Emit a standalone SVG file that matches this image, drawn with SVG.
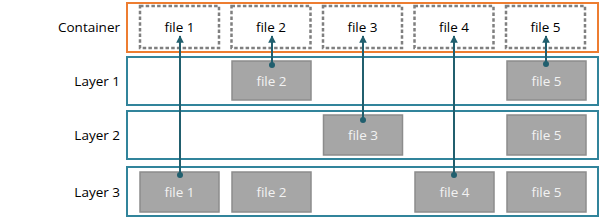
<svg xmlns="http://www.w3.org/2000/svg" width="603" height="219" viewBox="0 0 603 219">
<style>
.lbl{font-family:"Open Sans","Noto Sans",sans-serif;font-size:13.5px;fill:#000;text-anchor:end;dominant-baseline:central}
.ft{font-family:"Open Sans","Noto Sans",sans-serif;font-size:13.5px;text-anchor:middle;dominant-baseline:central}
.cont{fill:#fff;stroke:#ED7D31;stroke-width:2}
.layer{fill:#fff;stroke:#31849B;stroke-width:2}
.dash{fill:#fff;stroke:#7F7F7F;stroke-width:2.5;stroke-dasharray:3.5 2.2}
.gray{fill:#A6A6A6;stroke:#8C8C8C;stroke-width:1.5}
.wt{fill:#F2F2F2}
.bt{fill:#000}
.conn line{stroke:#215F6E;stroke-width:2;marker-end:url(#ah)}
.conn circle{fill:#215F6E}
</style>
<defs>
<marker id="ah" viewBox="0 0 10 10" refX="9" refY="5" markerWidth="3.8" markerHeight="3.8" orient="auto" markerUnits="strokeWidth">
<path d="M0,0 L10,5 L0,10 z" fill="#215F6E"/>
</marker>
</defs>
<g id="container">
<text class="lbl" x="120" y="27">Container</text>
<rect class="cont" x="127" y="3" width="471" height="49"/>
</g>
<g id="layer1"><text class="lbl" x="120" y="81">Layer 1</text><rect class="layer" x="127" y="57" width="471" height="48"/></g>
<g id="layer2"><text class="lbl" x="120" y="135">Layer 2</text><rect class="layer" x="127" y="111" width="471" height="48"/></g>
<g id="layer3"><text class="lbl" x="120" y="192">Layer 3</text><rect class="layer" x="127" y="167" width="471" height="49"/></g>

<g id="c-file1"><rect class="dash" x="140" y="6" width="79" height="42"/><text class="ft bt" x="179.5" y="27">file 1</text></g>
<g id="c-file2"><rect class="dash" x="231.5" y="6" width="79" height="42"/><text class="ft bt" x="271" y="27">file 2</text></g>
<g id="c-file3"><rect class="dash" x="323" y="6" width="79" height="42"/><text class="ft bt" x="362.5" y="27">file 3</text></g>
<g id="c-file4"><rect class="dash" x="414.5" y="6" width="79" height="42"/><text class="ft bt" x="454" y="27">file 4</text></g>
<g id="c-file5"><rect class="dash" x="506" y="6" width="79" height="42"/><text class="ft bt" x="545.5" y="27">file 5</text></g>

<g id="l1-file2"><rect class="gray" x="232" y="61" width="79" height="39"/><text class="ft wt" x="271.5" y="81">file 2</text></g>
<g id="l1-file5"><rect class="gray" x="507" y="61" width="79" height="39"/><text class="ft wt" x="546.5" y="81">file 5</text></g>

<g id="l2-file3"><rect class="gray" x="323.5" y="115" width="79" height="40"/><text class="ft wt" x="363" y="135">file 3</text></g>
<g id="l2-file5"><rect class="gray" x="507" y="115" width="79" height="40"/><text class="ft wt" x="546.5" y="135">file 5</text></g>

<g id="l3-file1"><rect class="gray" x="140" y="172" width="79" height="40"/><text class="ft wt" x="179.5" y="192">file 1</text></g>
<g id="l3-file2"><rect class="gray" x="232" y="172" width="79" height="40"/><text class="ft wt" x="271.5" y="192">file 2</text></g>
<g id="l3-file4"><rect class="gray" x="415" y="172" width="79" height="40"/><text class="ft wt" x="454.5" y="192">file 4</text></g>
<g id="l3-file5"><rect class="gray" x="507" y="172" width="79" height="40"/><text class="ft wt" x="546.5" y="192">file 5</text></g>

<g id="connectors" class="conn">
<line x1="180" y1="175" x2="180" y2="36"/><circle cx="180" cy="175" r="3"/>
<line x1="272" y1="65" x2="272" y2="36"/><circle cx="272" cy="65" r="3"/>
<line x1="363" y1="120" x2="363" y2="36"/><circle cx="363" cy="120" r="3"/>
<line x1="454" y1="175" x2="454" y2="36"/><circle cx="454" cy="175" r="3"/>
<line x1="546" y1="64" x2="546" y2="36"/><circle cx="546" cy="64" r="3"/>
</g>
</svg>
